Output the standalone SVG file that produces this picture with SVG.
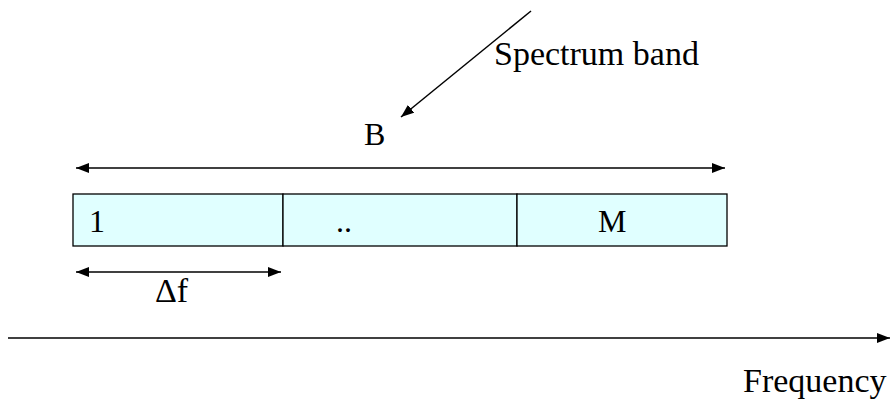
<svg xmlns="http://www.w3.org/2000/svg" width="891" height="401" viewBox="0 0 891 401">
<style>
text{font-family:"Liberation Serif","Times New Roman",serif;font-size:34px;fill:#000}
.sm{font-size:32px}
.ln{stroke:#000;stroke-width:1.5;fill:none}
.cell{fill:#E0FFFF;stroke:#000;stroke-width:1.3}
</style>
<defs>
<marker id="ahL" viewBox="0 0 10 10" refX="10" refY="5" markerWidth="13" markerHeight="10" markerUnits="userSpaceOnUse" orient="auto-start-reverse" preserveAspectRatio="none">
<path d="M0,0 L10,5 L0,10 z" fill="#000"/>
</marker>
</defs>
<g id="band">
<rect class="cell" x="73" y="194" width="210" height="52"/>
<rect class="cell" x="283" y="194" width="234" height="52"/>
<rect class="cell" x="517" y="194" width="210" height="52"/>
<text class="sm" x="89" y="232">1</text>
<text class="sm" x="336" y="232">..</text>
<text class="sm" x="598" y="232">M</text>
</g>
<g id="labels">
<text x="494" y="65">Spectrum band</text>
<text class="sm" x="364" y="145">B</text>
<text x="155" y="302">Δf</text>
<text x="743" y="392">Frequency</text>
</g>
<g id="connectors">
<line class="ln" x1="76" y1="168" x2="725" y2="168" marker-start="url(#ahL)" marker-end="url(#ahL)"/>
<line class="ln" x1="76" y1="272" x2="281" y2="272" marker-start="url(#ahL)" marker-end="url(#ahL)"/>
<line class="ln" x1="8" y1="338" x2="890" y2="338" marker-end="url(#ahL)"/>
<line class="ln" x1="531" y1="11" x2="401" y2="117" marker-end="url(#ahL)"/>
</g>
</svg>
